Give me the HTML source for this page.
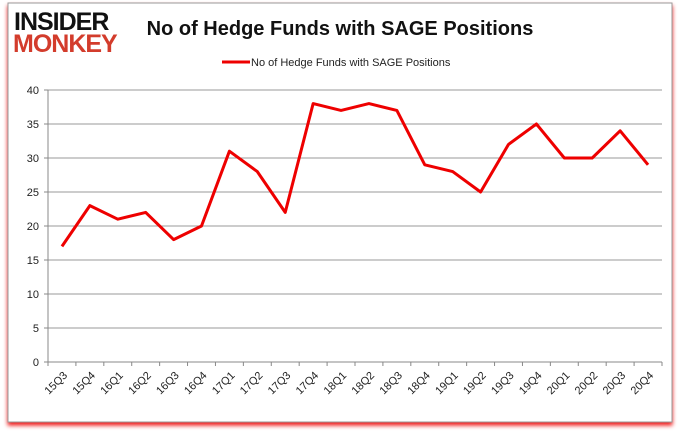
<!DOCTYPE html>
<html><head><meta charset="utf-8"><style>
body{margin:0;background:#fff;width:680px;height:433px;overflow:hidden;font-family:"Liberation Sans",sans-serif}
</style></head><body>
<svg width="680" height="433">
<defs><filter id="sh" x="-5%" y="-5%" width="110%" height="115%"><feDropShadow dx="0" dy="3" stdDeviation="2" flood-color="#e00" flood-opacity="0.9"/></filter></defs>
<rect x="8" y="3" width="664" height="419" fill="#fff" stroke="#999" filter="url(#sh)"/>
<text x="14" y="30" font-size="25" font-weight="bold" fill="#111" font-family="Liberation Sans" letter-spacing="-1">INSIDER</text>
<text x="13" y="52" font-size="25" font-weight="bold" fill="#d33c2c" letter-spacing="-1">MONKEY</text>
<text x="340" y="35" font-size="20" font-weight="bold" text-anchor="middle" fill="#111">No of Hedge Funds with SAGE Positions</text>
<line x1="222" y1="62" x2="250" y2="62" stroke="#e00" stroke-width="3"/>
<text x="251" y="66" font-size="11" fill="#222">No of Hedge Funds with SAGE Positions</text>
<g id="grid"></g><g id="ax"></g>
<polyline id="ln" fill="none" stroke="#e00" stroke-width="3" stroke-linejoin="round"/>
</svg>
<script>
const categories=["15Q3","15Q4","16Q1","16Q2","16Q3","16Q4","17Q1","17Q2","17Q3","17Q4","18Q1","18Q2","18Q3","18Q4","19Q1","19Q2","19Q3","19Q4","20Q1","20Q2","20Q3","20Q4"];
const values=[17,23,21,22,18,20,31,28,22,38,37,38,37,29,28,25,32,35,30,30,34,29];
const yTicks=[0,5,10,15,20,25,30,35,40];
const NS="http://www.w3.org/2000/svg";
const L=48,R=662,T=90,B=362;
const y=v=>B-(v/40)*(B-T);
const step=(R-L)/categories.length;
const x=i=>L+step*(i+0.5);
const g=document.getElementById('grid'),ax=document.getElementById('ax');
function mk(t,a,p){const e=document.createElementNS(NS,t);for(const k in a)e.setAttribute(k,a[k]);p.appendChild(e);return e;}
yTicks.forEach(v=>{
 const l=mk('line',{x1:L,x2:R,y1:y(v),y2:y(v),stroke:v===0?'#888':'#999','stroke-width':1},g);
 
 
 mk('line',{x1:L-4,x2:L,y1:y(v),y2:y(v),stroke:'#888'},ax);
 const t=mk('text',{x:L-9,y:y(v)+4,'font-size':11,'text-anchor':'end',fill:'#222'},ax);t.textContent=v;
 
 
});
mk('line',{x1:L,x2:L,y1:T,y2:B,stroke:'#888'},ax);
categories.forEach((c,i)=>{
 const tx=L+step*i;
 mk('line',{x1:tx,x2:tx,y1:B,y2:B+4,stroke:'#888'},ax);
 const t=mk('text',{x:x(i)+6,y:B+14,'font-size':11,'text-anchor':'end',fill:'#222',transform:`rotate(-45 ${x(i)+6} ${B+14})`},ax);
 t.textContent=c;
 
 
});
mk('line',{x1:R,x2:R,y1:B,y2:B+4,stroke:'#888'},ax);
document.getElementById('ln').setAttribute('points',values.map((v,i)=>x(i)+','+y(v)).join(' '));
</script>
</body></html>
